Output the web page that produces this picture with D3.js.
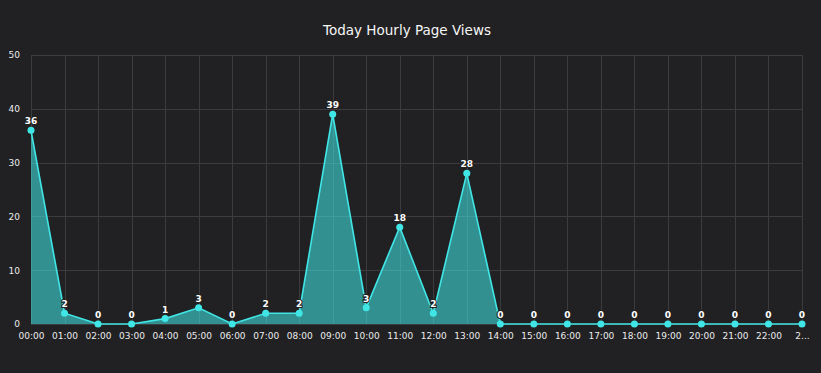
<!DOCTYPE html>
<html>
<head>
<meta charset="utf-8">
<script src="https://cdn.jsdelivr.net/npm/d3@7"></script>
<style>
  html, body { margin: 0; padding: 0; background: #212123; }
  svg text { font-family: "DejaVu Sans", Verdana, sans-serif; }
</style>
</head>
<body>
<div id="chart"></div>
<script>
const hours = ['00:00', '01:00', '02:00', '03:00', '04:00', '05:00', '06:00', '07:00',
  '08:00', '09:00', '10:00', '11:00', '12:00', '13:00', '14:00', '15:00', '16:00',
  '17:00', '18:00', '19:00', '20:00', '21:00', '22:00', '23:00'];
const views = [36, 2, 0, 0, 1, 3, 0, 2, 2, 39, 3, 18, 2, 28, 0, 0, 0, 0, 0, 0, 0, 0, 0, 0];
const yTicks = [0, 10, 20, 30, 40, 50];
const title = 'Today Hourly Page Views';

const width = 821;
const height = 373;
const margin = { top: 55, right: 19, bottom: 49, left: 31 };

const svg = d3
  .select('#chart')
  .append('svg')
  .attr('width', width)
  .attr('height', height);

const x = d3
  .scalePoint()
  .domain(hours)
  .range([margin.left, width - margin.right]);

const y = d3
  .scaleLinear()
  .domain([0, 50])
  .range([height - margin.bottom, margin.top]);

/* Title
-----------------------------------------------------------------------------*/
svg
  .append('text')
  .attr('x', 407)
  .attr('y', 35)
  .attr('text-anchor', 'middle')
  .attr('fill', '#f6f6f6')
  .attr('font-size', 13.5)
  .text(title);

/* Grid
-----------------------------------------------------------------------------*/
const grid = svg.append('g').attr('stroke', '#3c3c3e').attr('stroke-width', 1);

grid
  .selectAll('line.h')
  .data(yTicks)
  .join('line')
  .attr('class', 'h')
  .attr('x1', margin.left)
  .attr('x2', width - margin.right)
  .attr('y1', (d) => Math.round(y(d)) + 0.5)
  .attr('y2', (d) => Math.round(y(d)) + 0.5);

grid
  .selectAll('line.v')
  .data(hours)
  .join('line')
  .attr('class', 'v')
  .attr('x1', (d) => Math.round(x(d)) + 0.5)
  .attr('x2', (d) => Math.round(x(d)) + 0.5)
  .attr('y1', margin.top)
  .attr('y2', height - margin.bottom);

/* Axes
-----------------------------------------------------------------------------*/
const yAxis = svg
  .append('g')
  .attr('transform', `translate(${margin.left - 11},0)`)
  .call(d3.axisLeft(y).tickValues(yTicks).tickSize(0).tickPadding(0));
yAxis.select('.domain').remove();
yAxis
  .selectAll('text')
  .attr('fill', '#ececec')
  .attr('font-size', 9);

const xAxis = svg
  .append('g')
  .attr('transform', `translate(0,${height - margin.bottom})`)
  .call(
    d3
      .axisBottom(x)
      .tickSize(0)
      .tickPadding(9)
      .tickFormat((d, i) => (i === hours.length - 1 ? d.slice(0, 1) + '...' : d))
  );
xAxis.select('.domain').remove();
xAxis.selectAll('text').attr('fill', '#ececec').attr('font-size', 9);

/* Series
-----------------------------------------------------------------------------*/
const area = d3
  .area()
  .x((d, i) => x(hours[i]))
  .y0(y(0))
  .y1((d) => y(d));

const line = d3
  .line()
  .x((d, i) => x(hours[i]))
  .y((d) => y(d));

svg
  .append('path')
  .datum(views)
  .attr('fill', 'rgba(64, 226, 226, 0.58)')
  .attr('d', area);

svg
  .append('path')
  .datum(views)
  .attr('fill', 'none')
  .attr('stroke', '#40e6e6')
  .attr('stroke-width', 1.6)
  .attr('d', line);

svg
  .append('g')
  .selectAll('circle')
  .data(views)
  .join('circle')
  .attr('cx', (d, i) => x(hours[i]))
  .attr('cy', (d) => y(d))
  .attr('r', 3.5)
  .attr('fill', '#40e6e6');

svg
  .append('g')
  .selectAll('text')
  .data(views)
  .join('text')
  .attr('x', (d, i) => x(hours[i]))
  .attr('y', (d) => y(d) - 6)
  .attr('text-anchor', 'middle')
  .attr('fill', '#ffffff')
  .attr('stroke', '#222')
  .attr('stroke-width', 2)
  .attr('paint-order', 'stroke')
  .attr('font-size', 9)
  .attr('font-weight', 'bold')
  .text((d) => d);
</script>
</body>
</html>
